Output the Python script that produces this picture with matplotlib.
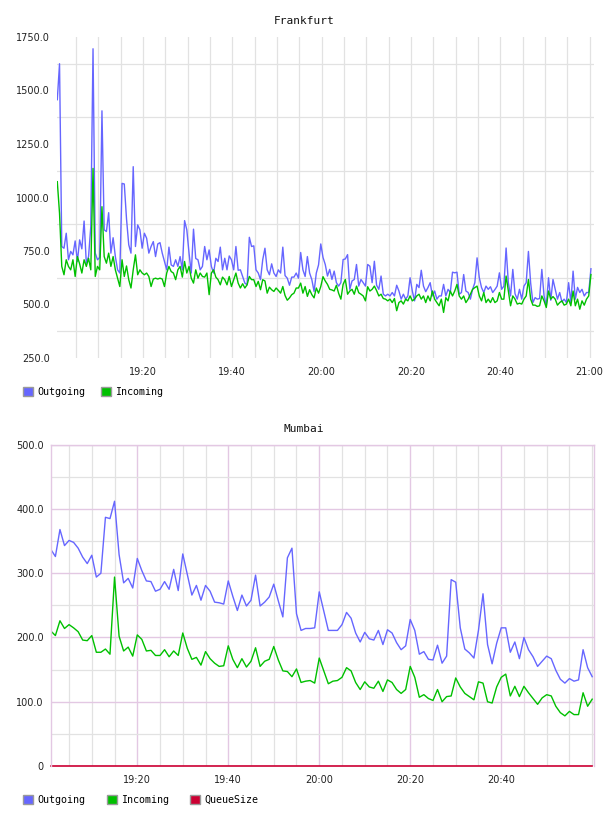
import matplotlib.dates as mdates
import matplotlib.pyplot as plt
import pandas as pd
from matplotlib.patches import Patch
from matplotlib.ticker import FixedLocator

DAY = "2000-01-01"

# Frankfurt: one sample every 30 s
FRANKFURT_START = "19:00:49"
FRANKFURT_STEP = "30s"

frankfurt_out = [
    1457, 1625, 771, 763, 833, 709, 748, 732, 797, 701,
    802, 760, 890, 693, 724, 864, 1695, 740, 709, 720,
    1405, 849, 841, 929, 740, 812, 724, 662, 647, 1066,
    1063, 900, 779, 740, 1144, 771, 872, 849, 763, 833,
    810, 740, 771, 794, 724, 783, 789, 740, 701, 662,
    768, 685, 678, 709, 678, 724, 662, 892, 849, 740,
    647, 852, 715, 709, 662, 678, 771, 709, 755, 678,
    647, 716, 701, 768, 662, 716, 662, 727, 709, 662,
    771, 660, 662, 631, 600, 592, 814, 771, 774, 662,
    647, 616, 709, 763, 662, 639, 690, 647, 631, 662,
    647, 768, 635, 623, 590, 628, 628, 647, 623, 743,
    662, 631, 724, 647, 616, 561, 647, 685, 783, 720,
    687, 633, 664, 617, 656, 602, 586, 602, 710, 713,
    733, 571, 610, 617, 687, 586, 617, 602, 586, 687,
    679, 602, 702, 590, 571, 633, 548, 540, 548, 540,
    556, 540, 590, 563, 525, 548, 525, 540, 625, 563,
    517, 594, 579, 660, 586, 560, 579, 602, 540, 563,
    525, 540, 540, 594, 540, 571, 556, 651, 648, 651,
    548, 556, 640, 563, 556, 525, 571, 602, 718, 625,
    579, 556, 586, 571, 583, 556, 570, 586, 648, 571,
    586, 764, 602, 540, 664, 550, 525, 571, 525, 586,
    602, 748, 600, 509, 532, 525, 528, 664, 540, 494,
    625, 520, 617, 571, 525, 556, 512, 525, 509, 602,
    510, 656, 525, 580, 556, 571, 540, 556, 556, 667,
]

frankfurt_in = [
    1074, 926, 678, 639, 709, 678, 662, 709, 631, 724,
    690, 647, 709, 678, 716, 662, 1136, 631, 678, 662,
    957, 724, 693, 740, 678, 724, 662, 623, 584, 709,
    631, 680, 616, 577, 662, 732, 639, 662, 647, 639,
    647, 631, 584, 619, 623, 619, 623, 619, 584, 647,
    678, 654, 647, 616, 662, 678, 628, 701, 647, 678,
    623, 600, 662, 623, 647, 631, 628, 647, 546, 647,
    662, 628, 616, 592, 628, 616, 592, 631, 584, 616,
    647, 600, 577, 597, 577, 592, 631, 616, 616, 584,
    608, 569, 616, 610, 553, 581, 569, 561, 577, 566,
    553, 584, 542, 520, 531, 546, 553, 577, 577, 600,
    553, 584, 538, 569, 546, 531, 577, 553, 584, 630,
    610, 594, 571, 568, 563, 590, 552, 525, 594, 617,
    548, 563, 571, 548, 586, 555, 548, 540, 517, 583,
    563, 571, 586, 565, 540, 548, 528, 525, 517, 525,
    509, 528, 471, 509, 517, 502, 525, 517, 540, 517,
    525, 540, 548, 525, 540, 509, 540, 517, 563, 525,
    509, 494, 525, 463, 532, 517, 563, 540, 563, 594,
    540, 525, 540, 509, 525, 548, 571, 579, 586, 540,
    517, 556, 509, 525, 509, 532, 509, 517, 556, 525,
    525, 633, 563, 494, 540, 525, 502, 506, 502, 525,
    540, 617, 525, 497, 497, 491, 494, 540, 517, 486,
    563, 525, 537, 525, 497, 509, 517, 497, 502, 525,
    494, 563, 494, 525, 478, 517, 497, 525, 540, 640,
]

# Mumbai: one sample per minute
MUMBAI_START = "19:01"
MUMBAI_STEP = "1min"

mumbai_out = [
    337, 326, 368, 343, 351, 348, 339, 325, 315, 328,
    294, 300, 387, 385, 412, 329, 285, 292, 277, 323,
    304, 288, 287, 272, 275, 287, 275, 306, 273, 330,
    298, 266, 281, 258, 281, 272, 255, 254, 252, 288,
    264, 242, 266, 249, 258, 297, 249, 255, 263, 283,
    257, 232, 324, 339, 237, 211, 214, 214, 215, 271,
    241, 211, 211, 211, 220, 239, 230, 207, 193, 208,
    198, 196, 211, 189, 212, 207, 192, 181, 187, 228,
    211, 174, 178, 166, 165, 188, 160, 171, 290, 286,
    215, 182, 176, 168, 211, 268, 189, 159, 191, 215,
    215, 177, 193, 167, 200, 181, 170, 155, 163, 171,
    167, 149, 135, 129, 136, 132, 134, 181, 153, 139,
]

mumbai_in = [
    210, 203, 226, 214, 220, 215, 209, 196, 195, 203,
    177, 177, 182, 174, 294, 202, 179, 185, 171, 204,
    197, 179, 180, 172, 172, 181, 170, 179, 172, 207,
    183, 166, 169, 157, 178, 167, 160, 155, 156, 187,
    166, 153, 167, 154, 163, 184, 155, 163, 166, 186,
    165, 148, 147, 139, 151, 130, 132, 133, 129, 168,
    148, 128, 132, 133, 138, 153, 148, 130, 119, 131,
    123, 121, 132, 116, 134, 130, 119, 113, 119, 155,
    138, 107, 111, 105, 102, 119, 100, 108, 109, 137,
    123, 113, 108, 103, 131, 129, 100, 98, 123, 138,
    143, 109, 124, 108, 124, 114, 105, 96, 106, 111,
    109, 93, 83, 78, 85, 80, 80, 114, 93, 104,
]

# the queue stayed empty the whole hour
mumbai_queue = [0] * len(mumbai_out)

FRANKFURT_YTICKS = [250, 500, 750, 1000, 1250, 1500, 1750]
FRANKFURT_YLABELS = ["250.0", "500.0", "750.0", "1000.0", "1250.0", "1500.0", "1750.0"]
FRANKFURT_YGRID = [375, 625, 875, 1125, 1375, 1625]

MUMBAI_YTICKS = [0, 100, 200, 300, 400, 500]
MUMBAI_YLABELS = ["0", "100.0", "200.0", "300.0", "400.0", "500.0"]
MUMBAI_YGRID = [50, 150, 250, 350, 450]

COLORS = {
    "Outgoing": "#6666ff",
    "Incoming": "#00c000",
    "QueueSize": "#cc0033",
}

GRID_GRAY = "#e2e2e2"
GRID_PINK = "#e3c8e3"
MONO = "DejaVu Sans Mono"

W, H = 608, 816


def t(clock):
    return pd.Timestamp(f"{DAY} {clock}")


def times(start, step, n):
    return pd.date_range(t(start), periods=n, freq=step)


def base_axis(ax, yticks, ylabels, ygrid):
    ax.set_yticks(yticks)
    ax.set_yticklabels(ylabels)
    ax.yaxis.set_minor_locator(FixedLocator(ygrid))
    ax.xaxis.set_major_locator(mdates.MinuteLocator(byminute=[0, 20, 40]))
    ax.xaxis.set_minor_locator(mdates.MinuteLocator(byminute=range(0, 60, 5)))
    ax.xaxis.set_major_formatter(mdates.DateFormatter("%H:%M"))
    ax.tick_params(which="both", length=0, labelsize=7, colors="#222222")
    ax.tick_params(axis="y", pad=5)
    ax.tick_params(axis="x", pad=6.5)
    ax.set_axisbelow(True)


def add_legend(fig, names, y, spacing):
    handles = [Patch(facecolor=COLORS[n], edgecolor="#9a9a9a", linewidth=1.0) for n in names]
    fig.legend(
        handles,
        names,
        loc="center left",
        bbox_to_anchor=(23 / W, 1 - y / H),
        ncol=len(names),
        frameon=False,
        borderpad=0,
        borderaxespad=0,
        handlelength=1.0,
        handleheight=1.0,
        handletextpad=0.45,
        columnspacing=spacing,
        prop={"family": MONO, "size": 7.2},
    )


fig = plt.figure(figsize=(W / 100, H / 100), dpi=100)

# Frankfurt
ax = fig.add_axes([57 / W, 1 - 358 / H, 537 / W, 321 / H])
x = times(FRANKFURT_START, FRANKFURT_STEP, len(frankfurt_out))
ax.plot(x, frankfurt_out, color=COLORS["Outgoing"], linewidth=1.0)
ax.plot(x, frankfurt_in, color=COLORS["Incoming"], linewidth=1.0)
base_axis(ax, FRANKFURT_YTICKS, FRANKFURT_YLABELS, FRANKFURT_YGRID)
ax.set_ylim(250, 1750)
ax.set_xlim(t("19:00:45"), t("21:01:00"))
ax.grid(True, which="both", axis="x", color=GRID_GRAY, linewidth=0.9)
ax.grid(True, which="minor", axis="y", color=GRID_GRAY, linewidth=0.9)
for side in ax.spines.values():
    side.set_visible(False)
fig.text(0.5, 1 - 20.5 / H, "Frankfurt", ha="center", va="center", family=MONO, size=8, color="#111111")
add_legend(fig, ["Outgoing", "Incoming"], 392, 1.5)

# Mumbai
ax = fig.add_axes([50.7 / W, 1 - 766 / H, 543 / W, 321.3 / H])
x = times(MUMBAI_START, MUMBAI_STEP, len(mumbai_out))
ax.plot(x, mumbai_out, color=COLORS["Outgoing"], linewidth=1.0)
ax.plot(x, mumbai_in, color=COLORS["Incoming"], linewidth=1.0)
ax.plot(x, mumbai_queue, color=COLORS["QueueSize"], linewidth=1.2, clip_on=False)
base_axis(ax, MUMBAI_YTICKS, MUMBAI_YLABELS, MUMBAI_YGRID)
ax.set_ylim(0, 500)
ax.set_xlim(t("19:00:58"), t("21:00:20"))
ax.set_xticks([t("19:20"), t("19:40"), t("20:00"), t("20:20"), t("20:40")])
ax.grid(True, which="major", color=GRID_PINK, linewidth=1.0)
ax.grid(True, which="minor", color=GRID_GRAY, linewidth=0.9)
for name, side in ax.spines.items():
    side.set_color(GRID_PINK)
    side.set_linewidth(1.0)
ax.spines["bottom"].set_visible(False)
fig.text(0.5, 1 - 429 / H, "Mumbai", ha="center", va="center", family=MONO, size=8, color="#111111")
add_legend(fig, ["Outgoing", "Incoming", "QueueSize"], 800, 2.1)

fig.savefig("out.png", dpi=100)
